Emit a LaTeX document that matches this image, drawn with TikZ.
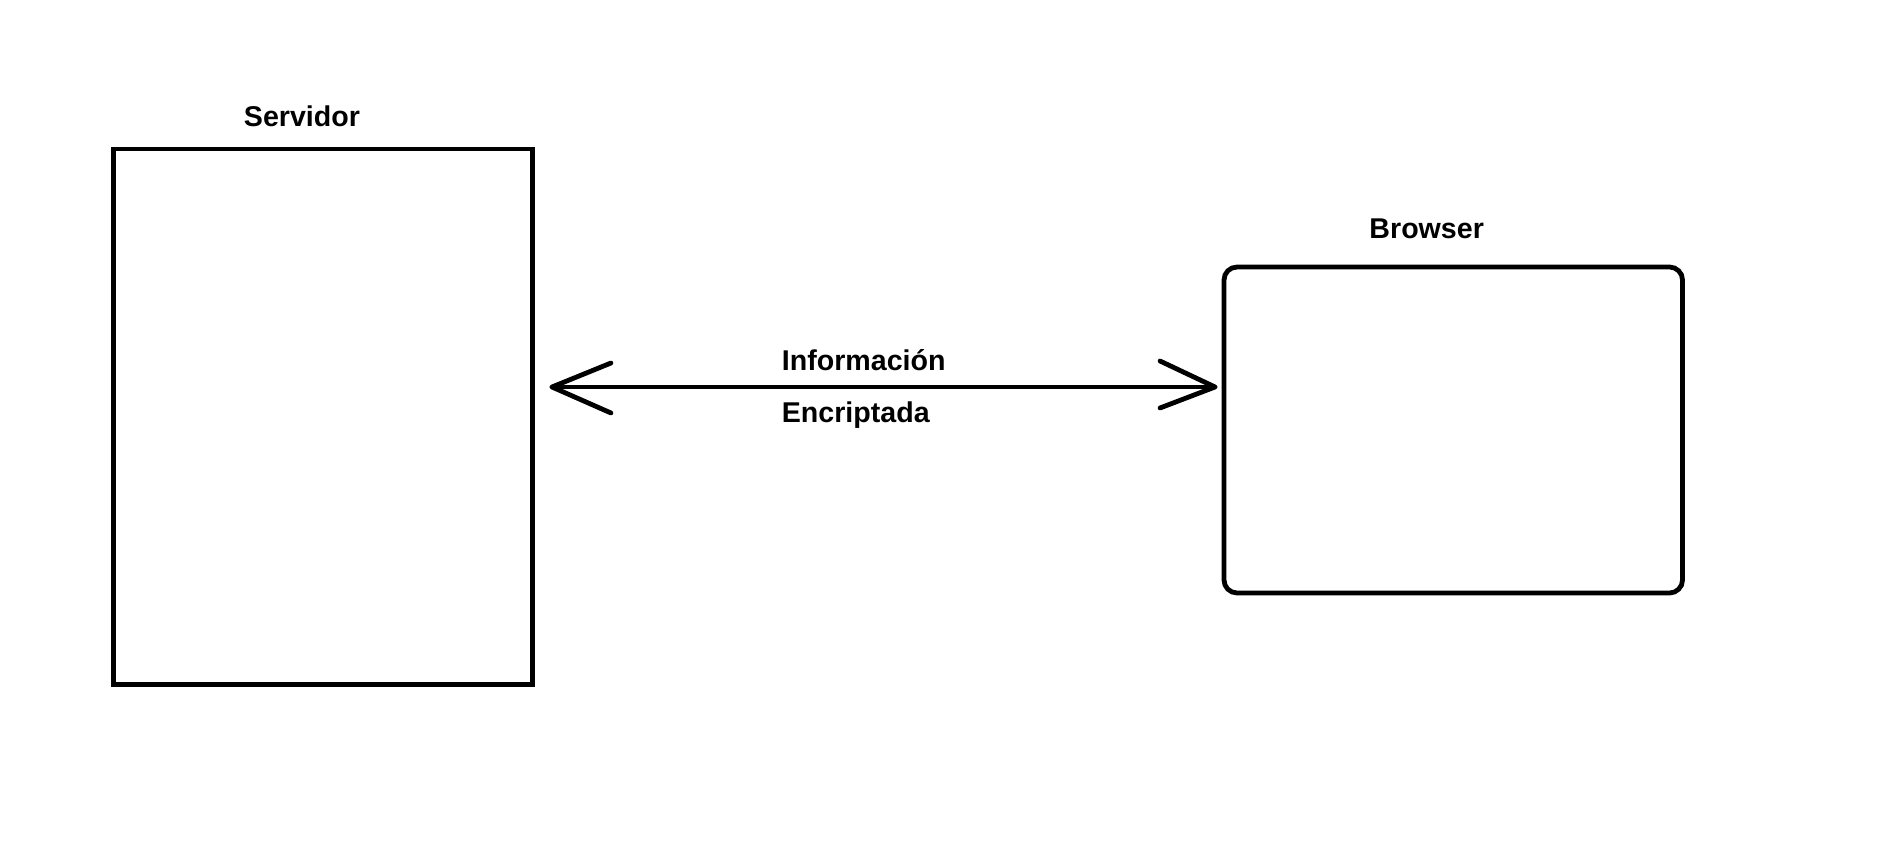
\documentclass[tikz,border=0pt]{standalone}
\usepackage{fontspec}
\setmainfont{Liberation Sans}
\begin{document}
\begin{tikzpicture}[x=1pt,y=-1pt,
  lbl/.style={font=\fontsize{28.6}{34}\selectfont\bfseries, inner sep=0pt},
  boxshape/.style={draw, line width=4.8pt, inner sep=0pt, outer sep=0pt, anchor=north west},
  arm/.style={line width=4.8pt, line cap=round, line join=round}]
\useasboundingbox[fill=white] (0,0) rectangle (1897,850);
% boxes
\node[boxshape, minimum width=419pt, minimum height=535.5pt] (srv) at (113.5,149) {};
\node[boxshape, rounded corners=13pt, minimum width=458.5pt, minimum height=326pt] (brw) at (1224,267) {};
% labels
\node[lbl, anchor=base] (tsrv) at (302,127) {Servidor};
\node[lbl, anchor=base] (tbrw) at (1426.7,239) {Browser};
\node[lbl, anchor=base west] (tinf) at (781.7,370.7) {Información};
\node[lbl, anchor=base west] (tenc) at (781.7,422.5) {Encriptada};
% connector
\coordinate (lt) at (552,387);
\coordinate (rt) at (1215,387);
\coordinate (la1) at (611,363);
\coordinate (la2) at (611,413);
\coordinate (ra1) at (1160,361);
\coordinate (ra2) at (1160,408);
\draw[arm] (lt) -- (rt);
\draw[arm] (la1) -- (lt) -- (la2);
\draw[arm] (ra1) -- (rt) -- (ra2);
\end{tikzpicture}
\end{document}
